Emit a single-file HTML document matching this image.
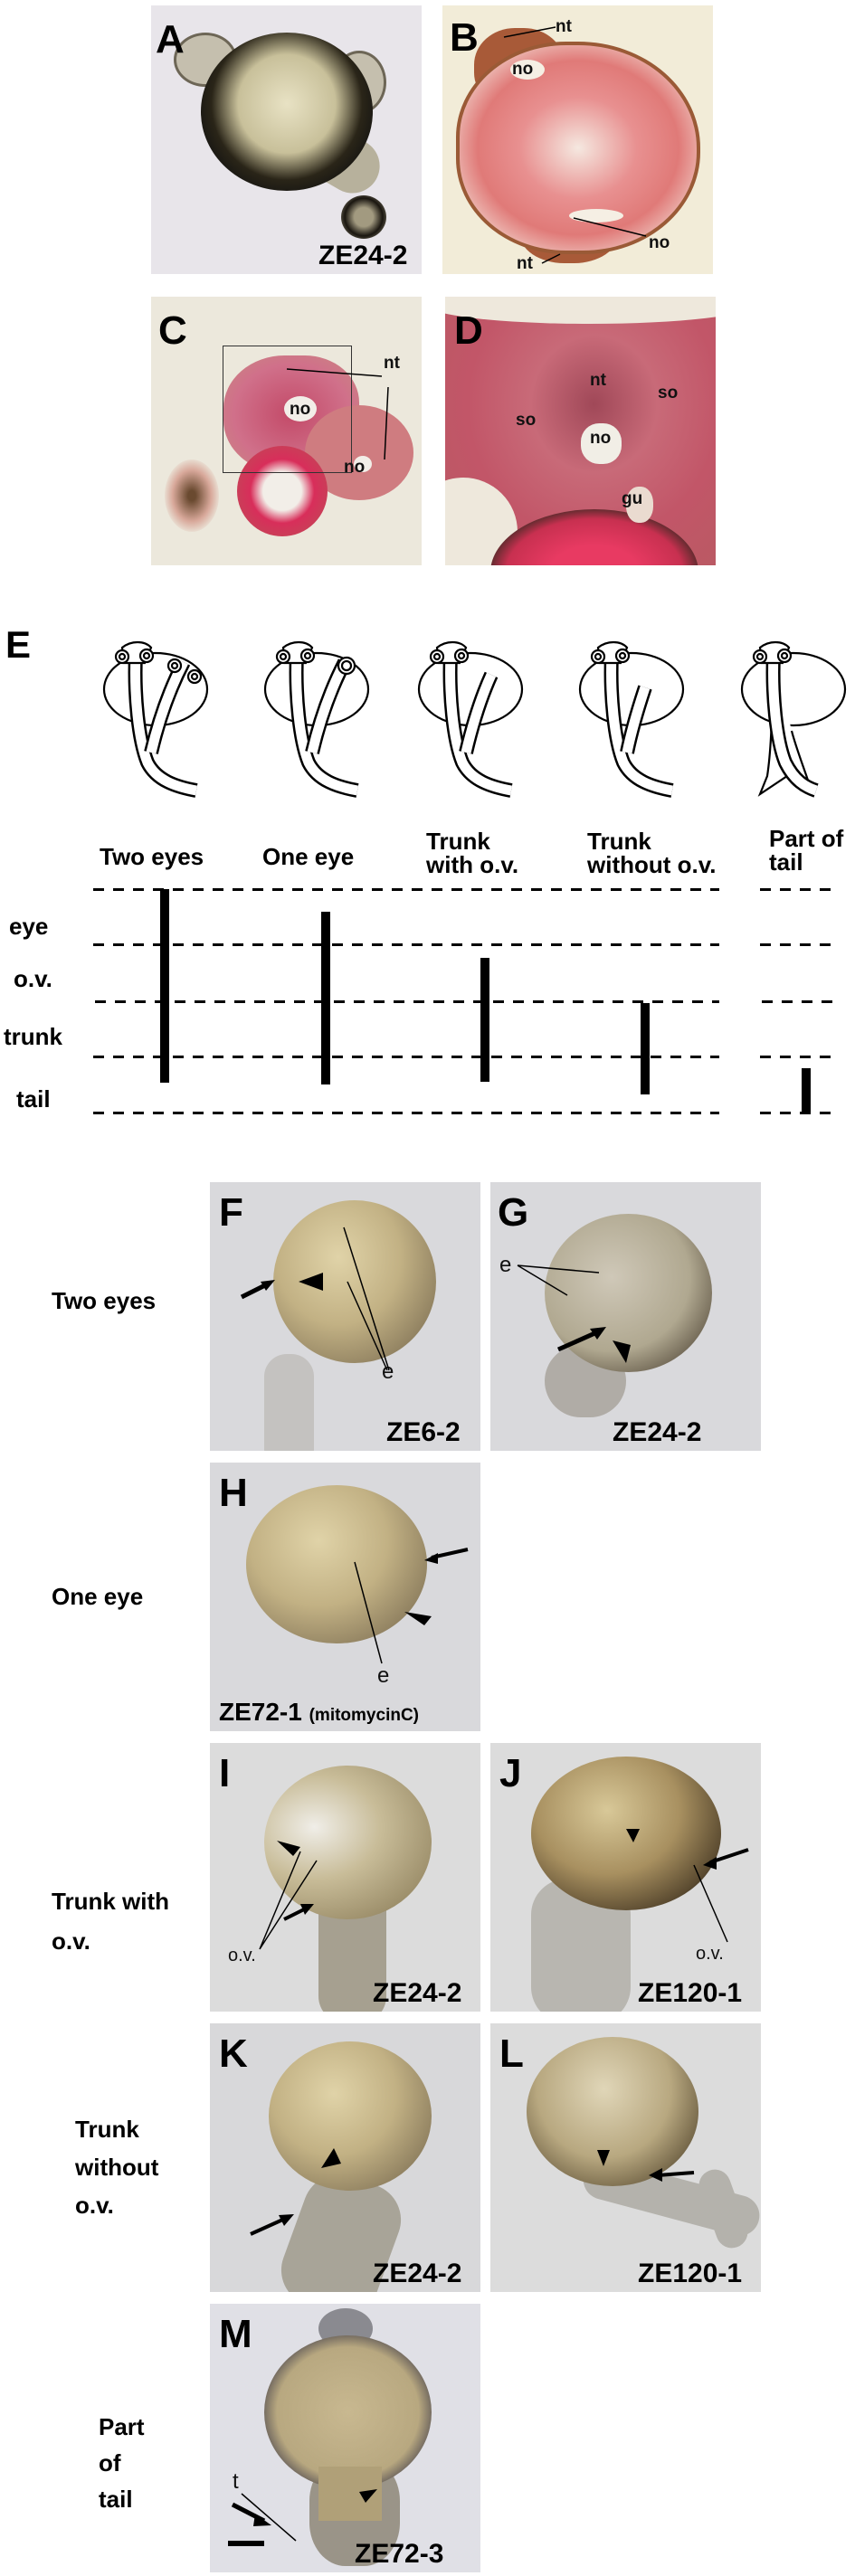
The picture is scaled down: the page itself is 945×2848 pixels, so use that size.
<!DOCTYPE html>
<html><head><meta charset="utf-8"><style>
*{margin:0;padding:0;box-sizing:border-box}
body{width:945px;height:2848px;background:#fff;position:relative;overflow:hidden;font-family:"Liberation Sans",Arial,sans-serif}
.p{position:absolute;overflow:hidden}
.a{position:absolute}
.L{position:absolute;font-weight:bold;font-size:44px;color:#000;line-height:1}
.t{position:absolute;font-weight:bold;font-size:26px;color:#000;line-height:1;white-space:nowrap}
.s{position:absolute;font-weight:bold;font-size:19px;color:#111;line-height:1}
.z{position:absolute;font-weight:bold;font-size:30px;color:#000;line-height:1;white-space:nowrap}
.yolk{position:absolute;border-radius:50%;background:radial-gradient(ellipse at 40% 35%,#e0d3a8 0%,#c2b184 45%,#8f8060 78%,#3a3222 92%,#1a160e 100%)}
.dash{position:absolute;height:3px;background:repeating-linear-gradient(90deg,#000 0 12px,transparent 12px 22px)}
.bar{position:absolute;background:#000;width:10px}
</style></head><body>

<!-- A -->
<div class="p" style="left:167px;top:6px;width:299px;height:297px;background:#e8e5ea">
  <div class="a" style="left:90px;top:120px;width:170px;height:60px;background:#b7b19c;border-radius:40px;transform:rotate(30deg)"></div>
  <div class="a" style="left:25px;top:30px;width:70px;height:60px;background:#c5bfae;border-radius:50%;border:3px solid #6d6656"></div>
  <div class="a" style="left:200px;top:50px;width:60px;height:70px;background:#c5bfae;border-radius:50%;border:3px solid #6d6656"></div>
  <div class="a" style="left:55px;top:30px;width:190px;height:175px;border-radius:50%;background:radial-gradient(ellipse at 50% 45%,#e8e2c4 0%,#c8c09a 40%,#2a2518 62%,#111 80%,#3a3428 100%)"></div>
  <div class="a" style="left:210px;top:210px;width:50px;height:48px;border-radius:50%;background:radial-gradient(circle,#a29a80 30%,#1a1610 60%,#8a8470 90%)"></div>
  <div class="L" style="left:5px;top:16px">A</div>
  <div class="z" style="left:185px;top:262px">ZE24-2</div>
</div>
<!-- B -->
<div class="p" style="left:489px;top:6px;width:299px;height:297px;background:#f2ecd8">
  <div class="a" style="left:35px;top:25px;width:100px;height:90px;border-radius:45%;background:#a85a38"></div>
  <div class="a" style="left:85px;top:210px;width:110px;height:75px;border-radius:45%;background:#a85a38"></div>
  <div class="a" style="left:15px;top:40px;width:270px;height:235px;border-radius:45% 50% 48% 45%;background:radial-gradient(ellipse,#f5e8e0 0%,#e89090 35%,#e07a78 60%,#f3dcd4 85%);border:4px solid #9a5a36"></div>
  <div class="a" style="left:75px;top:60px;width:38px;height:22px;border-radius:50%;background:#f5efe4"></div>
  <div class="a" style="left:140px;top:225px;width:60px;height:15px;border-radius:50%;background:#f5efe4"></div>
  <div class="L" style="left:8px;top:14px">B</div>
  <div class="s" style="left:125px;top:14px">nt</div>
  <div class="s" style="left:77px;top:61px">no</div>
  <div class="s" style="left:228px;top:253px">no</div>
  <div class="s" style="left:82px;top:276px">nt</div>
  <svg class="a" style="left:0;top:0" width="299" height="297"><path d="M68 35 L125 24 M145 235 L225 255 M110 285 L130 275" stroke="#000" stroke-width="1.5" fill="none"/></svg>
</div>
<!-- C -->
<div class="p" style="left:167px;top:328px;width:299px;height:297px;background:#ece8dc">
  <div class="a" style="left:80px;top:65px;width:150px;height:130px;border-radius:45% 40% 35% 45%;background:radial-gradient(ellipse,#c34a68 0%,#d0708a 60%,#c98a80 100%)"></div>
  <div class="a" style="left:170px;top:120px;width:120px;height:105px;border-radius:50%;background:#cf7c80"></div>
  <div class="a" style="left:95px;top:165px;width:100px;height:100px;border-radius:50%;background:radial-gradient(circle,#f2eee8 30%,#d82e5a 50%,#c84058 75%,#3a2a20 90%)"></div>
  <div class="a" style="left:15px;top:180px;width:60px;height:80px;border-radius:50%;background:radial-gradient(ellipse,#6a4a30 10%,#d8a89a 50%,#ece8dc 75%)"></div>
  <div class="a" style="left:79px;top:54px;width:143px;height:141px;border:1.5px solid #333"></div>
  <div class="a" style="left:147px;top:110px;width:36px;height:28px;border-radius:50%;background:#f2eee8"></div>
  <div class="a" style="left:224px;top:176px;width:20px;height:18px;border-radius:50%;background:#f2eee8"></div>
  <div class="L" style="left:8px;top:16px">C</div>
  <div class="s" style="left:257px;top:64px">nt</div>
  <div class="s" style="left:153px;top:115px">no</div>
  <div class="s" style="left:213px;top:179px">no</div>
  <svg class="a" style="left:0;top:0" width="299" height="297"><path d="M150 80 L255 88 M262 100 L258 180" stroke="#000" stroke-width="1.5" fill="none"/></svg>
</div>
<!-- D -->
<div class="p" style="left:492px;top:328px;width:299px;height:297px;background:#c45a6a">
  <div class="a" style="left:0;top:0;width:299px;height:297px;background:radial-gradient(ellipse at 55% 40%,#a04858 0%,#c86a78 30%,#c25668 60%,#b85a62 100%)"></div>
  <div class="a" style="left:-20px;top:-40px;width:360px;height:70px;background:#eee8dc;border-radius:0 0 50% 50%/0 0 30% 30%"></div>
  <div class="a" style="left:-40px;top:200px;width:120px;height:120px;background:#eee8dc;border-radius:50%"></div>
  <div class="a" style="left:50px;top:235px;width:230px;height:140px;border-radius:50%;background:radial-gradient(ellipse,#e83a62 30%,#c83050 60%,#402a24 75%)"></div>
  <div class="a" style="left:150px;top:140px;width:45px;height:45px;border-radius:45%;background:#f1eee6"></div>
  <div class="a" style="left:200px;top:210px;width:30px;height:40px;border-radius:45%;background:#eadbd0"></div>
  <div class="L" style="left:10px;top:16px">D</div>
  <div class="s" style="left:160px;top:83px">nt</div>
  <div class="s" style="left:235px;top:97px">so</div>
  <div class="s" style="left:78px;top:127px">so</div>
  <div class="s" style="left:160px;top:147px">no</div>
  <div class="s" style="left:195px;top:214px">gu</div>
</div>

<!-- E -->
<div class="L" style="left:6px;top:692px;font-size:42px">E</div>
<svg class="a" style="left:0;top:700px" width="945" height="185" fill="none" stroke="#000" stroke-width="2.2">
  <g transform="translate(115,8)">
    <ellipse cx="57" cy="54" rx="57" ry="40" fill="#fff"/>
    <path d="M35 15 C33 60 38 110 48 135 C58 155 80 162 102 166" stroke-width="16"/>
    <path d="M35 15 C33 60 38 110 48 135 C58 155 80 162 102 166" stroke="#fff" stroke-width="11"/>
    <path d="M88 24 C72 55 60 90 52 124" stroke-width="16"/>
    <path d="M88 24 C72 55 60 90 52 124" stroke="#fff" stroke-width="11"/>
    <path d="M20 8 C30 0 45 0 52 8 L45 25 L22 25Z" fill="#fff"/>
    <circle cx="20" cy="18" r="7" fill="#fff"/><circle cx="20" cy="18" r="3"/>
    <circle cx="47" cy="17" r="7" fill="#fff"/><circle cx="47" cy="17" r="3"/>
    <circle cx="78" cy="28" r="7" fill="#fff"/><circle cx="78" cy="28" r="3"/>
    <circle cx="100" cy="40" r="7" fill="#fff"/><circle cx="100" cy="40" r="3"/>
  </g>
  <g transform="translate(293,8)">
    <ellipse cx="57" cy="54" rx="57" ry="40" fill="#fff"/>
    <path d="M35 15 C33 60 38 110 48 135 C58 155 80 162 102 166" stroke-width="16"/>
    <path d="M35 15 C33 60 38 110 48 135 C58 155 80 162 102 166" stroke="#fff" stroke-width="11"/>
    <path d="M88 24 C72 55 60 90 52 124" stroke-width="16"/>
    <path d="M88 24 C72 55 60 90 52 124" stroke="#fff" stroke-width="11"/>
    <path d="M20 8 C30 0 45 0 52 8 L45 25 L22 25Z" fill="#fff"/>
    <circle cx="20" cy="18" r="7" fill="#fff"/><circle cx="20" cy="18" r="3"/>
    <circle cx="47" cy="17" r="7" fill="#fff"/><circle cx="47" cy="17" r="3"/>
    <circle cx="90" cy="28" r="9" fill="#fff"/><circle cx="90" cy="28" r="5"/>
  </g>
  <g transform="translate(463,8)">
    <ellipse cx="57" cy="54" rx="57" ry="40" fill="#fff"/>
    <path d="M35 15 C33 60 38 110 48 135 C58 155 80 162 102 166" stroke-width="16"/>
    <path d="M35 15 C33 60 38 110 48 135 C58 155 80 162 102 166" stroke="#fff" stroke-width="11"/>
    <path d="M80 38 C70 60 60 90 52 124" stroke-width="16"/>
    <path d="M80 38 C70 60 60 90 52 124" stroke="#fff" stroke-width="11"/>
    <path d="M20 8 C30 0 45 0 52 8 L45 25 L22 25Z" fill="#fff"/>
    <circle cx="20" cy="18" r="7" fill="#fff"/><circle cx="20" cy="18" r="3"/>
    <circle cx="47" cy="17" r="7" fill="#fff"/><circle cx="47" cy="17" r="3"/>
  </g>
  <g transform="translate(641,8)">
    <ellipse cx="57" cy="54" rx="57" ry="40" fill="#fff"/>
    <path d="M35 15 C33 60 38 110 48 135 C58 155 80 162 102 166" stroke-width="16"/>
    <path d="M35 15 C33 60 38 110 48 135 C58 155 80 162 102 166" stroke="#fff" stroke-width="11"/>
    <path d="M72 52 C66 70 58 95 52 124" stroke-width="16"/>
    <path d="M72 52 C66 70 58 95 52 124" stroke="#fff" stroke-width="11"/>
    <path d="M20 8 C30 0 45 0 52 8 L45 25 L22 25Z" fill="#fff"/>
    <circle cx="20" cy="18" r="7" fill="#fff"/><circle cx="20" cy="18" r="3"/>
    <circle cx="47" cy="17" r="7" fill="#fff"/><circle cx="47" cy="17" r="3"/>
  </g>
  <g transform="translate(820,8)">
    <ellipse cx="57" cy="54" rx="57" ry="40" fill="#fff"/>
    <path d="M35 15 C33 60 34 110 28 150 L20 170 L50 150 L78 170 C72 150 60 120 55 100" stroke-width="2.2" fill="#fff"/>
    <path d="M35 15 C33 60 38 110 48 135 C58 155 70 162 82 166" stroke-width="16"/>
    <path d="M35 15 C33 60 38 110 48 135 C58 155 70 162 82 166" stroke="#fff" stroke-width="11"/>
    <path d="M20 8 C30 0 45 0 52 8 L45 25 L22 25Z" fill="#fff"/>
    <circle cx="20" cy="18" r="7" fill="#fff"/><circle cx="20" cy="18" r="3"/>
    <circle cx="47" cy="17" r="7" fill="#fff"/><circle cx="47" cy="17" r="3"/>
  </g>
</svg>

<div class="t" style="left:110px;top:934px">Two eyes</div>
<div class="t" style="left:290px;top:934px">One eye</div>
<div class="t" style="left:471px;top:917px">Trunk<br>with o.v.</div>
<div class="t" style="left:649px;top:917px">Trunk<br>without o.v.</div>
<div class="t" style="left:850px;top:914px">Part of<br>tail</div>

<div class="t" style="left:10px;top:1011px">eye</div>
<div class="t" style="left:15px;top:1069px">o.v.</div>
<div class="t" style="left:4px;top:1133px">trunk</div>
<div class="t" style="left:18px;top:1202px">tail</div>

<div class="dash" style="left:103px;top:982px;width:692px"></div>
<div class="dash" style="left:103px;top:1043px;width:692px"></div>
<div class="dash" style="left:105px;top:1106px;width:690px"></div>
<div class="dash" style="left:103px;top:1167px;width:692px"></div>
<div class="dash" style="left:103px;top:1229px;width:692px"></div>
<div class="dash" style="left:840px;top:982px;width:82px"></div>
<div class="dash" style="left:840px;top:1043px;width:82px"></div>
<div class="dash" style="left:842px;top:1106px;width:82px"></div>
<div class="dash" style="left:840px;top:1167px;width:82px"></div>
<div class="dash" style="left:840px;top:1229px;width:82px"></div>
<div class="bar" style="left:177px;top:983px;height:214px"></div>
<div class="bar" style="left:355px;top:1008px;height:191px"></div>
<div class="bar" style="left:531px;top:1059px;height:137px"></div>
<div class="bar" style="left:708px;top:1109px;height:101px"></div>
<div class="bar" style="left:886px;top:1181px;height:49px"></div>

<!-- row labels -->
<div class="t" style="left:57px;top:1425px">Two eyes</div>
<div class="t" style="left:57px;top:1752px">One eye</div>
<div class="t" style="left:57px;top:2080px;line-height:44px">Trunk with<br>o.v.</div>
<div class="t" style="left:83px;top:2333px;line-height:42px">Trunk<br>without<br>o.v.</div>
<div class="t" style="left:109px;top:2663px;line-height:40px">Part<br>of<br>tail</div>

<!-- F -->
<div class="p" style="left:232px;top:1307px;width:299px;height:297px;background:#d9d9dc">
  <div class="a" style="left:60px;top:190px;width:55px;height:130px;background:#c4c2c0;border-radius:25px"></div>
  <div class="yolk" style="left:70px;top:20px;width:180px;height:180px"></div>
  <div class="L" style="left:10px;top:12px">F</div>
  <div class="z" style="left:195px;top:262px">ZE6-2</div>
  <div class="s" style="left:190px;top:198px;font-weight:normal;font-size:24px">e</div>
  <svg class="a" style="left:0;top:0" width="299" height="297"><path d="M148 50 L198 208 M152 110 L196 208" stroke="#000" stroke-width="1.5"/><path d="M98 110 L125 100 L125 120Z" fill="#000"/><path d="M35 127 L65 112" stroke="#000" stroke-width="5"/><path d="M72 108 L56 110 L62 120Z" fill="#000"/></svg>
</div>
<!-- G -->
<div class="p" style="left:542px;top:1307px;width:299px;height:297px;background:#d9d9dc">
  <div class="a" style="left:60px;top:180px;width:90px;height:80px;background:#b0aca6;border-radius:40px"></div>
  <div class="yolk" style="left:60px;top:35px;width:185px;height:175px;background:radial-gradient(ellipse at 40% 40%,#cfc8b8 0%,#b0a890 55%,#5a5040 85%,#1a1610 100%)"></div>
  <div class="L" style="left:8px;top:12px">G</div>
  <div class="z" style="left:135px;top:262px">ZE24-2</div>
  <div class="s" style="left:10px;top:80px;font-weight:normal;font-size:24px">e</div>
  <svg class="a" style="left:0;top:0" width="299" height="297"><path d="M30 92 L120 100 M30 92 L85 125" stroke="#000" stroke-width="1.5"/><path d="M75 185 L120 165" stroke="#000" stroke-width="5"/><path d="M128 160 L110 162 L118 174Z" fill="#000"/><path d="M135 175 L150 200 L155 180Z" fill="#000"/></svg>
</div>
<!-- H -->
<div class="p" style="left:232px;top:1617px;width:299px;height:297px;background:#d9d9dc">
  <div class="yolk" style="left:40px;top:25px;width:200px;height:175px"></div>
  <div class="L" style="left:10px;top:12px">H</div>
  <div class="z" style="left:10px;top:262px;font-size:28px">ZE72-1 <span style="font-size:19px">(mitomycinC)</span></div>
  <div class="s" style="left:185px;top:224px;font-weight:normal;font-size:24px">e</div>
  <svg class="a" style="left:0;top:0" width="299" height="297"><path d="M160 110 L190 222" stroke="#000" stroke-width="1.5"/><path d="M245 105 L285 96" stroke="#000" stroke-width="4"/><path d="M237 108 L252 100 L252 112Z" fill="#000"/><path d="M215 165 L245 170 L237 180Z" fill="#000"/></svg>
</div>
<!-- I -->
<div class="p" style="left:232px;top:1927px;width:299px;height:297px;background:#dcdcdc">
  <div class="a" style="left:120px;top:150px;width:75px;height:160px;background:#a6a090;border-radius:30px"></div>
  <div class="yolk" style="left:60px;top:25px;width:185px;height:170px;background:radial-gradient(ellipse at 30% 40%,#f0eee8 0%,#c8bc98 40%,#9a8c68 80%,#5a5038 100%)"></div>
  <div class="L" style="left:10px;top:12px">I</div>
  <div class="z" style="left:180px;top:262px">ZE24-2</div>
  <div class="s" style="left:20px;top:225px;font-weight:normal;font-size:20px">o.v.</div>
  <svg class="a" style="left:0;top:0" width="299" height="297"><path d="M55 228 L100 120 M55 228 L118 130" stroke="#000" stroke-width="1.5"/><path d="M74 108 L100 115 L92 125Z" fill="#000"/><path d="M82 195 L108 182" stroke="#000" stroke-width="4"/><path d="M115 178 L100 178 L105 190Z" fill="#000"/></svg>
</div>
<!-- J -->
<div class="p" style="left:542px;top:1927px;width:299px;height:297px;background:#dcdcdc">
  <div class="a" style="left:45px;top:150px;width:110px;height:160px;background:#b8b6b0;border-radius:40px"></div>
  <div class="yolk" style="left:45px;top:15px;width:210px;height:170px;background:radial-gradient(ellipse at 40% 35%,#d8c898 0%,#a89060 45%,#5a4a30 75%,#0a0806 92%)"></div>
  <div class="L" style="left:10px;top:12px">J</div>
  <div class="z" style="left:163px;top:262px">ZE120-1</div>
  <div class="s" style="left:227px;top:223px;font-weight:normal;font-size:20px">o.v.</div>
  <svg class="a" style="left:0;top:0" width="299" height="297"><path d="M225 135 L262 220" stroke="#000" stroke-width="1.5"/><path d="M150 95 L165 95 L158 110Z" fill="#000"/><path d="M243 132 L285 118" stroke="#000" stroke-width="4"/><path d="M235 135 L250 126 L250 140Z" fill="#000"/></svg>
</div>
<!-- K -->
<div class="p" style="left:232px;top:2237px;width:299px;height:297px;background:#d8d8da">
  <div class="a" style="left:90px;top:170px;width:110px;height:150px;background:#a8a498;border-radius:40px;transform:rotate(20deg)"></div>
  <div class="yolk" style="left:65px;top:20px;width:180px;height:165px"></div>
  <div class="L" style="left:10px;top:12px">K</div>
  <div class="z" style="left:180px;top:262px">ZE24-2</div>
  <svg class="a" style="left:0;top:0" width="299" height="297"><path d="M123 160 L137 138 L145 155Z" fill="#000"/><path d="M45 233 L85 215" stroke="#000" stroke-width="4"/><path d="M93 211 L76 212 L82 224Z" fill="#000"/></svg>
</div>
<!-- L -->
<div class="p" style="left:542px;top:2237px;width:299px;height:297px;background:#dcdcdc">
  <div class="a" style="left:100px;top:170px;width:200px;height:45px;background:#b4b2ac;border-radius:25px;transform:rotate(15deg)"></div>
  <div class="a" style="left:240px;top:160px;width:35px;height:90px;background:#b4b2ac;border-radius:18px;transform:rotate(-20deg)"></div>
  <div class="yolk" style="left:40px;top:15px;width:190px;height:165px;background:radial-gradient(ellipse at 45% 35%,#e0d6b8 0%,#b8a880 50%,#6a5c40 80%,#15120c 95%)"></div>
  <div class="L" style="left:10px;top:12px">L</div>
  <div class="z" style="left:163px;top:262px">ZE120-1</div>
  <svg class="a" style="left:0;top:0" width="299" height="297"><path d="M118 140 L132 140 L125 158Z" fill="#000"/><path d="M185 168 L225 165" stroke="#000" stroke-width="4"/><path d="M175 168 L190 160 L190 175Z" fill="#000"/></svg>
</div>
<!-- M -->
<div class="p" style="left:232px;top:2547px;width:299px;height:297px;background:#e0e0e6">
  <div class="a" style="left:120px;top:5px;width:60px;height:45px;border-radius:50%;background:#8a8a90"></div>
  <div class="a" style="left:110px;top:170px;width:100px;height:120px;border-radius:40%;background:#9a9488"></div>
  <div class="a" style="left:60px;top:35px;width:185px;height:170px;border-radius:50%;background:radial-gradient(ellipse,#c8b890 0%,#b8a880 60%,#20203a 85%)"></div>
  <div class="a" style="left:120px;top:180px;width:70px;height:60px;background:#b0a078"></div>
  <div class="L" style="left:10px;top:12px">M</div>
  <div class="z" style="left:160px;top:262px">ZE72-3</div>
  <div class="s" style="left:25px;top:185px;font-weight:normal;font-size:24px">t</div>
  <svg class="a" style="left:0;top:0" width="299" height="297"><path d="M35 210 L95 262" stroke="#000" stroke-width="1.5"/><path d="M165 208 L185 205 L172 220Z" fill="#000"/><path d="M25 222 L60 240" stroke="#000" stroke-width="5"/><path d="M68 245 L50 232 L48 246Z" fill="#000"/><rect x="20" y="262" width="40" height="6" fill="#000"/></svg>
</div>
</body></html>
